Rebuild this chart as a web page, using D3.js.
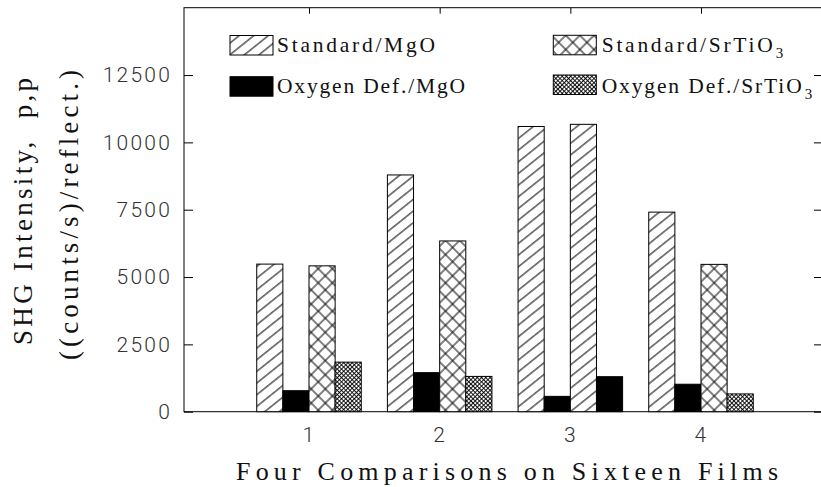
<!DOCTYPE html>
<html>
<head>
<meta charset="utf-8">
<script src="https://cdn.jsdelivr.net/npm/d3@7"></script>
<style>
  html, body { margin: 0; padding: 0; background: #fff; }
  svg { display: block; }
</style>
</head>
<body>
<div id="chart"></div>
<script>
// Data
const comparisons = [1, 2, 3, 4];
const legendLabels = ["Standard/MgO", "Oxygen Def./MgO", "Standard/SrTiO", "Oxygen Def./SrTiO"];
const legendSubs = ["", "", "3", "3"];
const bar1 = [5480, 8790, 10590, 7410];   // 1st bar of each comparison
const bar2 = [780, 1450, 570, 1020];      // 2nd bar
const bar3 = [5415, 6340, 10670, 5470];   // 3rd bar
const bar4 = [1840, 1310, 1300, 660];     // 4th bar
// which legend entry each bar belongs to (comparison 3 is MgO only)
const bar1Kind = [0, 0, 0, 0];
const bar2Kind = [1, 1, 1, 1];
const bar3Kind = [2, 2, 0, 2];
const bar4Kind = [3, 3, 1, 3];
const yTicks = [0, 2500, 5000, 7500, 10000, 12500];
const yMax = 15000;

const width = 821;
const height = 487;
const margin = { left: 184, right: 822, top: 7.7, bottom: 411.7 };

const svg = d3.select("#chart").append("svg")
  .attr("width", width)
  .attr("height", height);

// Patterns for the bar fills
const defs = svg.append("defs");
const addPattern = (id, size, angle, lines, sw) => {
  const p = defs.append("pattern")
    .attr("id", id)
    .attr("patternUnits", "userSpaceOnUse")
    .attr("width", size[0])
    .attr("height", size[1])
    .attr("patternTransform", `rotate(${angle})`);
  p.append("rect").attr("width", size[0]).attr("height", size[1]).attr("fill", "#fff");
  p.append("path").attr("d", lines).attr("stroke", "#000").attr("stroke-width", sw).attr("fill", "none");
};
addPattern("hatch", [12, 9.1], -38.7, "M0,4.5H12", 1);
addPattern("cross", [10, 10], 45, "M0,5H10M5,0V10", 1);
addPattern("fine", [3, 3], 45, "M0,1.5H3M1.5,0V3", 0.9);
const fills = ["url(#hatch)", "#000", "url(#cross)", "url(#fine)"];

// Scales
const x = d3.scaleLinear().domain([1, 4]).range([309, 701]);
const y = d3.scaleLinear().domain([0, yMax]).range([margin.bottom, margin.top]);

const tickFont = (sel) => sel.selectAll("text")
  .attr("font-family", "Roboto, sans-serif")
  .attr("font-weight", 300)
  .attr("font-size", 21)
  .attr("letter-spacing", 2.2)
  .attr("fill", "#333");

// Axes (ticks point inward)
const yAxisL = svg.append("g")
  .attr("transform", `translate(${margin.left},0)`)
  .call(d3.axisLeft(y).tickValues(yTicks).tickSizeInner(-9).tickSizeOuter(0)
    .tickPadding(12).tickFormat(d3.format("d")));
tickFont(yAxisL);

svg.append("g")
  .attr("transform", `translate(${margin.right},0)`)
  .call(d3.axisRight(y).tickValues(yTicks).tickSizeInner(-8).tickSizeOuter(0).tickFormat(""));

svg.append("g")
  .attr("transform", `translate(0,${margin.top})`)
  .call(d3.axisTop(x).tickValues(comparisons).tickSizeInner(-6).tickSizeOuter(0).tickFormat(""));

const xAxisB = svg.append("g")
  .attr("transform", `translate(0,${margin.bottom})`)
  .call(d3.axisBottom(x).tickValues(comparisons).tickSizeInner(-6).tickSizeOuter(0)
    .tickPadding(15.5).tickFormat(d3.format("d")));
tickFont(xAxisB);

svg.selectAll(".domain").remove();
svg.selectAll(".tick line").attr("stroke", "#000");

// Frame
svg.append("rect")
  .attr("x", margin.left).attr("y", margin.top)
  .attr("width", margin.right - margin.left).attr("height", margin.bottom - margin.top)
  .attr("fill", "none").attr("stroke", "#000").attr("stroke-width", 1);

// Bars
const values = [bar1, bar2, bar3, bar4];
const kinds = [bar1Kind, bar2Kind, bar3Kind, bar4Kind];
const data = [];
comparisons.forEach((c, gi) => {
  values.forEach((vals, slot) => {
    data.push({ c, slot, value: vals[gi], kind: kinds[slot][gi] });
  });
});
const bw = 0.2;
svg.append("g").selectAll("rect")
  .data(data)
  .enter()
  .append("rect")
  .attr("x", (d) => x(d.c - 0.4 + d.slot * bw))
  .attr("y", (d) => y(d.value))
  .attr("width", (d) => x(d.c - 0.4 + (d.slot + 1) * bw) - x(d.c - 0.4 + d.slot * bw))
  .attr("height", (d) => y(0) - y(d.value))
  .attr("fill", (d) => fills[d.kind])
  .attr("stroke", "#000")
  .attr("stroke-width", 1);

// Legend
const legendPos = [
  { bx: 230, by: 35.5, tx: 277, ty: 51.7, len: 158 },
  { bx: 230, by: 76.7, tx: 277, ty: 93, len: 188 },
  { bx: 553.3, by: 35.3, tx: 601.7, ty: 51.7, len: 171 },
  { bx: 553.3, by: 75, tx: 601.7, ty: 92.5, len: 200 },
];
const serif = "Liberation Serif";
const legend = svg.append("g");
legendLabels.forEach((label, i) => {
  const p = legendPos[i];
  legend.append("rect")
    .attr("x", p.bx).attr("y", p.by)
    .attr("width", 43).attr("height", 19.5)
    .attr("fill", fills[i]).attr("stroke", "#000").attr("stroke-width", 1);
  legend.append("text")
    .attr("x", p.tx).attr("y", p.ty)
    .attr("font-family", serif).attr("font-size", 21.5).attr("fill", "#111")
    .attr("textLength", p.len).attr("lengthAdjust", "spacing")
    .text(label);
  if (legendSubs[i]) {
    legend.append("text")
      .attr("x", p.tx + p.len + 3).attr("y", p.ty + 6.3)
      .attr("font-family", serif).attr("font-size", 15).attr("fill", "#111")
      .text(legendSubs[i]);
  }
});

// Axis titles
svg.append("text")
  .attr("x", 236).attr("y", 480)
  .attr("font-family", serif).attr("font-size", 26).attr("fill", "#111")
  .attr("textLength", 542).attr("lengthAdjust", "spacing")
  .text("Four Comparisons on Sixteen Films");

svg.append("text")
  .attr("transform", "rotate(-90)")
  .attr("x", -345).attr("y", 31.7)
  .attr("font-family", serif).attr("font-size", 27).attr("fill", "#111")
  .attr("textLength", 267).attr("lengthAdjust", "spacing")
  .style("white-space", "pre")
  .text("SHG Intensity,  p,p");

svg.append("text")
  .attr("transform", "rotate(-90)")
  .attr("x", -360).attr("y", 78)
  .attr("font-family", serif).attr("font-size", 27).attr("fill", "#111")
  .attr("textLength", 290).attr("lengthAdjust", "spacing")
  .text("((counts/s)/reflect.)");
</script>
</body>
</html>
